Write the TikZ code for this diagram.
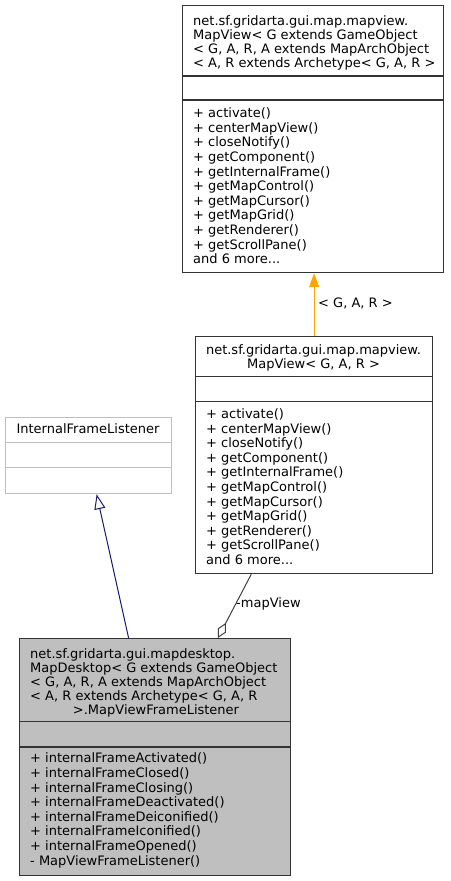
\documentclass[tikz,border=0pt]{standalone}
\usepackage{fontspec}
\setmainfont{DejaVu Sans}
\usetikzlibrary{arrows.meta}
\definecolor{boxgray}{HTML}{BFBFBF}
\definecolor{edgegray}{HTML}{404040}
\definecolor{navyline}{HTML}{191970}
\definecolor{orangeline}{HTML}{FFA500}
\begin{document}
\begin{tikzpicture}[x=1pt,y=-1pt,
  classbox/.style={draw=black!80, line width=1.2pt, inner sep=0pt, anchor=north west},
  divider/.style={draw=black!80, line width=1.2pt},
  ttl/.style={inner sep=0pt, align=left, anchor=north west, font=\fontsize{13}{13.9}\selectfont},
  ttlc/.style={inner sep=0pt, align=center, anchor=north, font=\fontsize{13}{13.9}\selectfont},
  mth/.style={inner sep=0pt, align=left, anchor=north west, font=\fontsize{13}{14.6}\selectfont},
  single/.style={inner sep=0pt, anchor=base, font=\fontsize{13}{14.6}\selectfont},
  elabel/.style={inner sep=0pt, anchor=base west, font=\fontsize{13}{14.6}\selectfont}
]
\useasboundingbox[fill=white] (0,0) rectangle (450,881);

% top box
\node[classbox, minimum width=261pt, minimum height=267pt] (b1) at (182,5) {};
\draw[divider] (b1.west |- 0,76) -- (b1.east |- 0,76);
\draw[divider] (b1.west |- 0,100) -- (b1.east |- 0,100);
\node[ttl] (t1) at (193,15.7) {\rule{0pt}{10pt}net.sf.gridarta.gui.map.mapview.\\MapView< G extends GameObject\\< G, A, R, A extends MapArchObject\\< A, R extends Archetype< G, A, R >};
\node[mth] (m1) at (193,107.5) {\rule{0pt}{10pt}+ activate()\\+ centerMapView()\\+ closeNotify()\\+ getComponent()\\+ getInternalFrame()\\+ getMapControl()\\+ getMapCursor()\\+ getMapGrid()\\+ getRenderer()\\+ getScrollPane()\\and 6 more...};

% middle box
\node[classbox, minimum width=237pt, minimum height=237pt] (b2) at (195,336) {};
\draw[divider] (b2.west |- 0,376.7) -- (b2.east |- 0,376.7);
\draw[divider] (b2.west |- 0,401.7) -- (b2.east |- 0,401.7);
\node[ttlc] (t2) at (313.5,344) {\rule{0pt}{10pt}net.sf.gridarta.gui.map.mapview.\\MapView< G, A, R >};
\node[mth] (m2) at (206,408.3) {\rule{0pt}{10pt}+ activate()\\+ centerMapView()\\+ closeNotify()\\+ getComponent()\\+ getInternalFrame()\\+ getMapControl()\\+ getMapCursor()\\+ getMapGrid()\\+ getRenderer()\\+ getScrollPane()\\and 6 more...};

% InternalFrameListener box
\node[classbox, draw=boxgray, minimum width=165.7pt, minimum height=76.3pt] (ifl) at (5,416.7) {};
\draw[draw=boxgray, line width=1.2pt] (ifl.west |- 0,442.3) -- (ifl.east |- 0,442.3);
\draw[draw=boxgray, line width=1.2pt] (ifl.west |- 0,467.7) -- (ifl.east |- 0,467.7);
\node[single] (tifl) at (88,433.3) {InternalFrameListener};

% bottom box
\node[classbox, fill=boxgray, minimum width=271pt, minimum height=237pt] (b3) at (19,638) {};
\draw[divider] (b3.west |- 0,721.7) -- (b3.east |- 0,721.7);
\draw[divider] (b3.west |- 0,747) -- (b3.east |- 0,747);
\node[ttl] (t3) at (30,648.7) {\rule{0pt}{10pt}net.sf.gridarta.gui.mapdesktop.\\MapDesktop< G extends GameObject\\< G, A, R, A extends MapArchObject\\< A, R extends Archetype< G, A, R};
\node[single] (t3b) at (156,714.3) {>.MapViewFrameListener};
\node[mth] (m3) at (30,752.7) {\rule{0pt}{10pt}+ internalFrameActivated()\\+ internalFrameClosed()\\+ internalFrameClosing()\\+ internalFrameDeactivated()\\+ internalFrameDeiconified()\\+ internalFrameIconified()\\+ internalFrameOpened()\\- MapViewFrameListener()};

% connectors
\draw[orangeline, line width=1pt, -{Triangle[length=14pt,width=10pt]}] (b2.north) -- (b2.north |- b1.south);
\node[elabel] (l1) at (318,307.5) {< G, A, R >};

\draw[navyline, line width=1pt, -{Triangle[open,length=15pt,width=11pt]}] ([xshift=-26.5pt]b3.north) -- ([xshift=8.15pt]ifl.south);

\draw[edgegray, line width=1pt, -{Diamond[open,length=17pt,width=9pt]}] ([xshift=-62.8pt]b2.south) -- ([xshift=62.8pt]b3.north);
\node[elabel] (l2) at (236,607.5) {-mapView};
\end{tikzpicture}
\end{document}
